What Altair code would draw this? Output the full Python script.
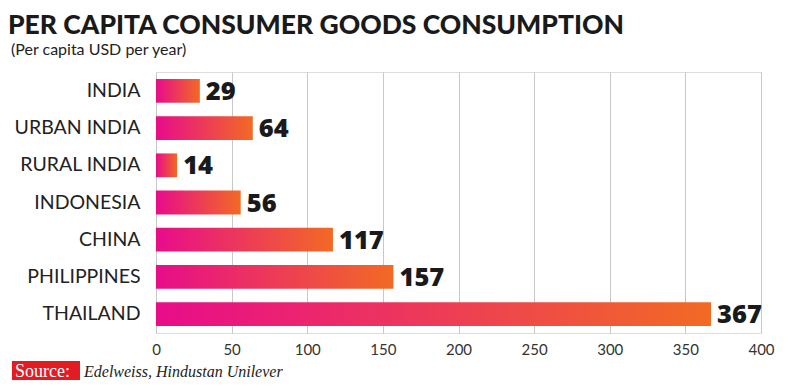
import altair as alt
import pandas as pd

countries = ["INDIA", "URBAN INDIA", "RURAL INDIA", "INDONESIA", "CHINA", "PHILIPPINES", "THAILAND"]
values = [29, 64, 14, 56, 117, 157, 367]
x_ticks = [0, 50, 100, 150, 200, 250, 300, 350, 400]

title_text = "PER CAPITA CONSUMER GOODS CONSUMPTION"
subtitle_text = "(Per capita USD per year)"
source_label = "Source:"
source_text = "Edelweiss, Hindustan Unilever"

df = pd.DataFrame({"country": countries, "value": values})

W, H = 605, 261

base = alt.Chart(df)

y_enc = alt.Y("country:N", sort=countries, title=None,
              scale=alt.Scale(paddingInner=0.36, paddingOuter=0.19),
              axis=alt.Axis(labelFont="Lato", labelFontSize=19.5, labelColor="#222222",
                            labelPadding=16, ticks=False, domain=False, grid=False))
x_enc = alt.X("value:Q", title=None,
              scale=alt.Scale(domain=[0, 400], nice=False),
              axis=alt.Axis(values=x_ticks, labelFont="Lato", labelFontSize=15,
                            labelColor="#333333", labelPadding=9, ticks=False,
                            labelFlush=False,
                            domain=False, grid=True, gridColor="#c8c8c8", gridWidth=1))

grad = alt.Gradient(gradient="linear", x1=0, x2=1, y1=0, y2=0,
                    stops=[alt.GradientStop(color="#e80c8a", offset=0),
                           alt.GradientStop(color="#f26a24", offset=1)])

bars = base.mark_bar(color=grad).encode(x=x_enc, y=y_enc)

labels = base.mark_text(align="left", baseline="middle", dx=6, dy=1, font="Open Sans",
                        fontWeight=800, fontSize=25.5, color="#1a1a1a").encode(
    x="value:Q", y=alt.Y("country:N", sort=countries), text="value:Q")

one = alt.Chart(pd.DataFrame({"t": [title_text]}))
title = one.mark_text(align="left", baseline="alphabetic", font="Lato", fontWeight=900,
                      fontSize=26.5, color="#1a1a1a").encode(
    x=alt.value(-148), y=alt.value(-38.5), text=alt.value(title_text))
subtitle = one.mark_text(align="left", baseline="alphabetic", font="Lato",
                         fontSize=16, color="#222222").encode(
    x=alt.value(-145), y=alt.value(-17.5), text=alt.value(subtitle_text))
src_box = one.mark_rect(color="#e31b23").encode(
    x=alt.value(-144), x2=alt.value(-76), y=alt.value(289), y2=alt.value(309))
src_lab = one.mark_text(align="left", baseline="alphabetic", font="Liberation Serif",
                        fontSize=18, color="white").encode(
    x=alt.value(-141), y=alt.value(305), text=alt.value(source_label))
src_txt = one.mark_text(align="left", baseline="alphabetic", font="Liberation Serif",
                        fontStyle="italic", fontSize=16, color="#222222").encode(
    x=alt.value(-72), y=alt.value(305), text=alt.value(source_text))

chart = alt.layer(bars, labels, title, subtitle, src_box, src_lab, src_txt).properties(
    width=W, height=H,
    autosize=alt.AutoSizeParams(type="none"),
    padding={"left": 148, "top": 64, "right": 30, "bottom": 47},
).configure_view(stroke=None).configure(background="white")

chart.save("out.html", embed_options={"renderer": "svg", "actions": False})
